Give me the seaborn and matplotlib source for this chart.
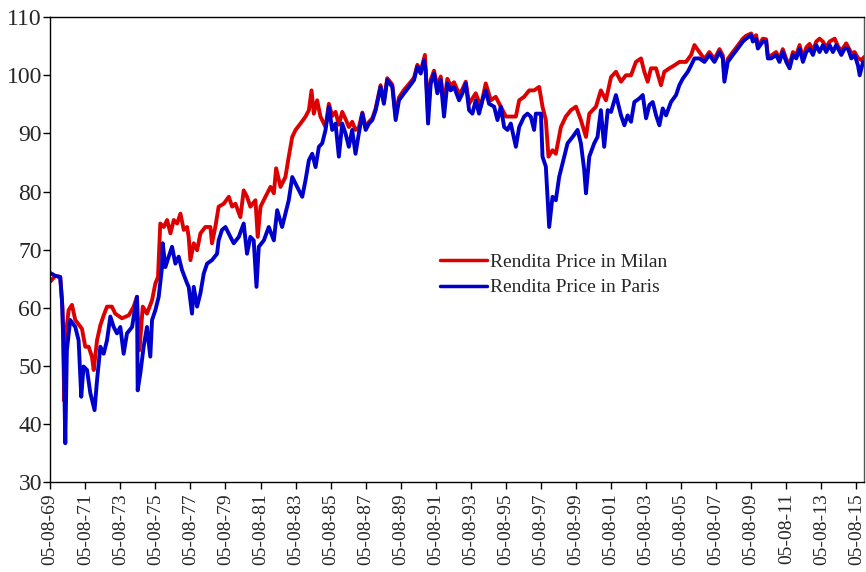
import pandas as pd
import matplotlib.pyplot as plt
import seaborn as sns

# Rendita price, Milan (red) - decimal year / price
milan_year = [
    1869.35, 1869.64, 1869.92, 1870.05, 1870.15, 1870.25, 1870.40, 1870.59, 1870.78, 1871.16,
    1871.35, 1871.54, 1871.73, 1871.83, 1872.02, 1872.21, 1872.40, 1872.59, 1872.87, 1873.06,
    1873.44, 1873.83, 1874.11, 1874.30, 1874.44, 1874.63, 1874.87, 1875.16, 1875.35, 1875.50,
    1875.63, 1875.83, 1876.02, 1876.21, 1876.40, 1876.59, 1876.78, 1876.97, 1877.16, 1877.25,
    1877.35, 1877.54, 1877.73, 1877.92, 1878.20, 1878.49, 1878.58, 1878.77, 1878.96, 1879.25,
    1879.54, 1879.73, 1879.92, 1880.20, 1880.39, 1880.58, 1880.77, 1881.06, 1881.19, 1881.35,
    1881.63, 1881.92, 1882.11, 1882.24, 1882.49, 1882.77, 1882.96, 1883.16, 1883.35, 1883.63,
    1883.92, 1884.11, 1884.26, 1884.39, 1884.58, 1884.77, 1885.06, 1885.25, 1885.44, 1885.63,
    1885.82, 1886.01, 1886.20, 1886.39, 1886.58, 1886.77, 1886.96, 1887.16, 1887.35, 1887.54,
    1887.73, 1887.92, 1888.20, 1888.39, 1888.58, 1888.87, 1889.06, 1889.25, 1889.54, 1889.82,
    1890.11, 1890.30, 1890.49, 1890.73, 1890.91, 1891.06, 1891.25, 1891.44, 1891.63, 1891.82,
    1892.01, 1892.20, 1892.39, 1892.68, 1892.87, 1893.06, 1893.25, 1893.63, 1893.92, 1894.20,
    1894.49, 1894.77, 1895.06, 1895.35, 1895.63, 1895.92, 1896.11, 1896.39, 1896.68, 1896.96,
    1897.25, 1897.44, 1897.63, 1897.78, 1898.01, 1898.20, 1898.49, 1898.77, 1899.06, 1899.35,
    1899.63, 1899.92, 1900.11, 1900.49, 1900.77, 1901.06, 1901.35, 1901.63, 1901.92, 1902.20,
    1902.49, 1902.77, 1903.06, 1903.25, 1903.44, 1903.63, 1903.92, 1904.20, 1904.39, 1904.68,
    1904.96, 1905.25, 1905.63, 1905.92, 1906.11, 1906.39, 1906.68, 1906.96, 1907.25, 1907.54,
    1907.73, 1907.82, 1908.01, 1908.30, 1908.58, 1908.87, 1909.06, 1909.35, 1909.44, 1909.63,
    1909.73, 1910.01, 1910.20, 1910.30, 1910.49, 1910.77, 1910.96, 1911.15, 1911.35, 1911.54,
    1911.73, 1911.92, 1912.11, 1912.30, 1912.49, 1912.68, 1912.87, 1913.06, 1913.25, 1913.44,
    1913.63, 1913.82, 1914.11, 1914.30, 1914.49, 1914.77, 1915.06, 1915.25, 1915.44, 1915.63,
    1915.82,
]
milan_price = [
    64.5, 65.5, 65.3, 60.0, 44.0, 55.6, 59.6, 60.5, 57.9, 56.4,
    53.3, 53.3, 51.6, 49.3, 54.4, 57.0, 58.7, 60.2, 60.2, 59.0,
    58.2, 58.7, 60.2, 61.9, 52.7, 60.2, 59.0, 61.3, 64.2, 65.3,
    74.5, 73.9, 75.1, 72.8, 75.1, 74.5, 76.2, 73.4, 73.9, 72.2,
    68.2, 71.1, 69.9, 72.8, 73.9, 73.9, 71.1, 73.9, 77.4, 77.9,
    79.1, 77.4, 77.9, 75.6, 80.2, 79.1, 77.4, 78.5, 72.2, 77.4,
    79.1, 80.8, 79.7, 84.0, 80.8, 82.5, 86.0, 89.4, 90.6, 91.7,
    92.9, 94.0, 97.4, 93.4, 95.7, 92.9, 91.1, 95.1, 93.0, 93.7,
    91.5, 93.7, 92.5, 91.1, 92.0, 90.6, 91.0, 93.6, 91.0, 92.0,
    92.6, 94.3, 98.3, 95.5, 99.5, 98.4, 93.0, 96.2, 97.5, 98.5,
    99.6, 101.8, 100.7, 103.5, 93.5, 99.2, 100.8, 98.0, 99.8, 95.0,
    99.4, 98.2, 98.8, 96.8, 97.6, 98.9, 95.1, 96.9, 94.6, 98.6,
    95.7, 96.3, 94.6, 92.9, 92.9, 92.9, 95.7, 96.3, 97.4, 97.4,
    98.0, 94.6, 92.3, 86.0, 87.1, 86.5, 91.1, 92.9, 94.0, 94.6,
    92.3, 89.4, 93.4, 94.6, 97.4, 95.7, 99.7, 100.6, 98.9, 100.0,
    100.0, 102.3, 102.9, 100.6, 98.9, 101.2, 101.2, 98.3, 100.6, 101.2,
    101.7, 102.3, 102.3, 103.5, 105.2, 104.0, 102.8, 104.0, 102.8, 104.5,
    103.4, 99.5, 102.8, 104.0, 105.1, 106.3, 106.8, 107.2, 106.3, 106.9,
    105.0, 106.3, 106.2, 103.3, 103.4, 104.0, 102.8, 104.5, 102.8, 101.8,
    104.0, 103.5, 105.2, 102.9, 104.8, 105.4, 104.2, 105.8, 106.3, 105.8,
    104.8, 105.8, 106.3, 105.0, 104.2, 105.5, 103.8, 104.0, 103.0, 102.6,
    103.2,
]

# Rendita price, Paris (blue)
paris_year = [
    1869.35, 1869.64, 1869.92, 1870.02, 1870.11, 1870.21, 1870.30, 1870.49, 1870.78, 1870.97,
    1871.12, 1871.25, 1871.45, 1871.64, 1871.88, 1872.02, 1872.21, 1872.40, 1872.59, 1872.78,
    1872.97, 1873.16, 1873.35, 1873.54, 1873.73, 1874.02, 1874.30, 1874.34, 1874.49, 1874.68,
    1874.87, 1875.06, 1875.16, 1875.35, 1875.54, 1875.73, 1875.77, 1875.92, 1876.11, 1876.30,
    1876.49, 1876.68, 1876.87, 1877.16, 1877.25, 1877.44, 1877.54, 1877.73, 1877.92, 1878.11,
    1878.30, 1878.58, 1878.87, 1878.96, 1879.15, 1879.35, 1879.63, 1879.82, 1880.11, 1880.39,
    1880.58, 1880.77, 1880.96, 1881.12, 1881.25, 1881.54, 1881.82, 1882.11, 1882.30, 1882.58,
    1882.77, 1882.96, 1883.16, 1883.44, 1883.73, 1883.92, 1884.11, 1884.30, 1884.49, 1884.68,
    1884.87, 1885.06, 1885.25, 1885.44, 1885.63, 1885.82, 1886.01, 1886.20, 1886.39, 1886.58,
    1886.77, 1886.96, 1887.16, 1887.35, 1887.54, 1887.73, 1887.92, 1888.20, 1888.39, 1888.58,
    1888.87, 1889.06, 1889.25, 1889.54, 1889.82, 1890.11, 1890.30, 1890.49, 1890.68, 1890.77,
    1890.91, 1891.06, 1891.25, 1891.44, 1891.63, 1891.82, 1892.01, 1892.20, 1892.39, 1892.68,
    1892.87, 1893.06, 1893.25, 1893.44, 1893.63, 1893.82, 1894.01, 1894.20, 1894.39, 1894.68,
    1894.87, 1895.06, 1895.25, 1895.44, 1895.63, 1895.92, 1896.11, 1896.39, 1896.58, 1896.77,
    1896.96, 1897.06, 1897.35, 1897.44, 1897.63, 1897.82, 1898.01, 1898.20, 1898.39, 1898.68,
    1898.87, 1899.16, 1899.44, 1899.63, 1899.82, 1899.92, 1900.11, 1900.39, 1900.58, 1900.77,
    1900.96, 1901.16, 1901.35, 1901.63, 1901.92, 1902.11, 1902.30, 1902.49, 1902.68, 1902.96,
    1903.16, 1903.35, 1903.54, 1903.73, 1903.92, 1904.11, 1904.30, 1904.49, 1904.77, 1905.06,
    1905.25, 1905.44, 1905.73, 1905.92, 1906.11, 1906.39, 1906.68, 1906.96, 1907.25, 1907.54,
    1907.73, 1907.82, 1908.01, 1908.30, 1908.58, 1908.87, 1909.06, 1909.35, 1909.44, 1909.63,
    1909.73, 1910.01, 1910.20, 1910.30, 1910.49, 1910.77, 1910.96, 1911.15, 1911.35, 1911.54,
    1911.73, 1911.92, 1912.11, 1912.30, 1912.49, 1912.68, 1912.87, 1913.06, 1913.25, 1913.44,
    1913.63, 1913.82, 1914.01, 1914.20, 1914.49, 1914.68, 1914.87, 1915.06, 1915.25, 1915.44,
    1915.54, 1915.73,
]
paris_price = [
    66.0, 65.5, 65.3, 61.3, 53.9, 36.7, 52.7, 57.9, 56.7, 54.4,
    44.7, 49.9, 49.3, 45.3, 42.4, 47.5, 53.3, 52.1, 54.4, 58.5,
    56.7, 55.6, 56.7, 52.1, 55.6, 56.7, 61.9, 45.8, 48.7, 53.3,
    56.7, 51.6, 57.9, 59.6, 61.9, 67.0, 71.1, 67.0, 68.8, 70.5,
    67.6, 68.8, 66.5, 64.2, 63.6, 59.0, 63.6, 60.2, 62.5, 65.9,
    67.6, 68.2, 69.3, 71.6, 73.4, 73.9, 72.2, 71.1, 72.2, 74.5,
    69.3, 72.2, 71.6, 63.6, 70.5, 71.6, 73.9, 71.6, 76.8, 73.9,
    76.2, 78.5, 82.5, 80.8, 79.1, 82.0, 85.4, 86.5, 84.2, 87.7,
    88.3, 90.6, 94.6, 90.6, 91.7, 86.0, 91.7, 90.0, 87.7, 90.6,
    86.5, 90.0, 93.4, 90.6, 91.7, 92.3, 94.0, 98.0, 95.1, 99.2,
    98.0, 92.3, 95.7, 96.9, 98.0, 99.2, 101.5, 100.3, 102.6, 100.9,
    91.7, 98.6, 100.3, 96.9, 99.2, 92.9, 98.6, 97.4, 98.0, 95.7,
    96.9, 98.6, 94.0, 93.4, 95.7, 93.4, 95.7, 97.4, 95.1, 94.6,
    92.3, 94.6, 91.1, 90.6, 91.7, 87.7, 91.1, 92.9, 93.4, 92.9,
    90.6, 93.4, 93.4, 86.0, 84.3, 73.9, 79.1, 78.5, 82.5, 86.0,
    88.3, 89.4, 90.6, 88.3, 83.7, 79.7, 86.0, 88.3, 89.4, 94.0,
    87.7, 94.0, 93.7, 96.6, 93.1, 91.4, 93.1, 92.0, 95.4, 96.0,
    96.6, 92.6, 94.9, 95.4, 93.1, 91.4, 94.3, 93.1, 95.4, 96.6,
    98.3, 99.4, 100.6, 101.7, 102.9, 102.9, 102.3, 103.5, 102.3, 104.0,
    102.9, 98.9, 102.3, 103.5, 104.6, 105.8, 106.3, 106.9, 105.8, 106.3,
    104.6, 105.8, 105.8, 102.9, 102.9, 103.5, 102.3, 104.0, 102.3, 101.2,
    103.5, 102.9, 104.6, 102.3, 104.0, 104.6, 103.5, 105.2, 104.0, 105.2,
    104.0, 105.2, 104.0, 105.2, 103.5, 104.6, 104.6, 102.9, 103.5, 101.7,
    100.0, 102.3,
]

tick_years = list(range(1869, 1916, 2))
tick_labels = ['05-08-%02d' % (y % 100) for y in tick_years]

sns.set_style('ticks')
plt.rcParams['font.family'] = ['Liberation Serif', 'DejaVu Serif']

df = pd.concat([
    pd.DataFrame({'year': milan_year, 'price': milan_price, 'series': 'Rendita Price in Milan'}),
    pd.DataFrame({'year': paris_year, 'price': paris_price, 'series': 'Rendita Price in Paris'}),
])

fig = plt.figure(figsize=(8.66, 5.72), dpi=100)
ax = fig.add_axes([0.058, 0.157, 0.94, 0.813])

sns.lineplot(data=df, x='year', y='price', hue='series',
             palette={'Rendita Price in Milan': '#DD0000', 'Rendita Price in Paris': '#0000CC'},
             estimator=None, linewidth=2.8, ax=ax)

ax.set_xlim(1869.35, 1915.8)
ax.set_ylim(30, 110)
ax.set_yticks(range(30, 111, 10))
ax.set_xticks([y + 0.35 for y in tick_years])
ax.set_xticklabels(tick_labels, rotation=90)
ax.set_xlabel('')
ax.set_ylabel('')
ax.tick_params(axis='x', direction='out', length=5, width=1, color='black', labelsize=14, pad=3)
ax.tick_params(axis='y', direction='out', length=5, width=1, color='black', labelsize=17, pad=1)
for s in ax.spines.values():
    s.set_color('black')
    s.set_linewidth(1)
ax.spines['right'].set_color('#555555')

leg = ax.legend(loc='upper left', bbox_to_anchor=(0.479, 0.492), frameon=False, fontsize=14,
                handlelength=2.4, handletextpad=0.15, labelspacing=0.4,
                borderpad=0, borderaxespad=0)
for h in leg.get_lines():
    h.set_linewidth(2.5)

fig.savefig('out.png', dpi=100)
